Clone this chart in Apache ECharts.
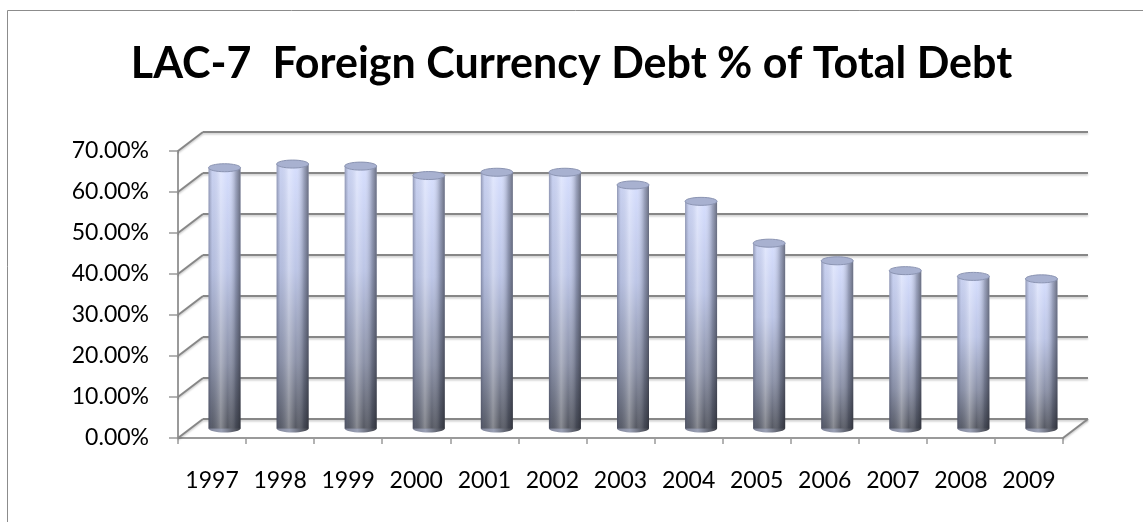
<!DOCTYPE html>
<html>
<head>
<meta charset="utf-8">
<script src="https://cdn.jsdelivr.net/npm/echarts@6/dist/echarts.min.js"></script>
<style>
  html, body { margin: 0; padding: 0; background: #ffffff; }
  #chart { width: 1143px; height: 522px; }
</style>
</head>
<body>
<div id="chart"></div>
<script>
// ---- data ----
const titleText = 'LAC-7  Foreign Currency Debt % of Total Debt';
const years = ['1997', '1998', '1999', '2000', '2001', '2002', '2003', '2004', '2005', '2006', '2007', '2008', '2009'];
const foreignDebtShare = [0.636, 0.645, 0.640, 0.617, 0.625, 0.625, 0.594, 0.554, 0.452, 0.409, 0.385, 0.371, 0.365];
const yTicks = [0, 0.1, 0.2, 0.3, 0.4, 0.5, 0.6, 0.7];

// ---- 3D look constants (style only) ----
const DEPTH_X = 25, DEPTH_Y = -19;   // back wall offset
const MID_X = 12.5, MID_Y = -9.5;    // cylinder plane offset
const BAR_W = 32, ELL_RY = 4;
const FONT = 'Lato, "Open Sans", sans-serif';

const chart = echarts.init(document.getElementById('chart'), null, { renderer: 'canvas' });

function wallItem(params, api) {
  const v = api.value(1);
  const band = api.size([1, 0])[0];
  const pL = api.coord([0, v]);
  const pR = api.coord([years.length - 1, v]);
  const xl = pL[0] - band / 2, xr = pR[0] + band / 2, y = pL[1];
  const st = { stroke: '#878787', lineWidth: 2, shadowColor: 'rgba(0,0,0,0.22)', shadowBlur: 2, shadowOffsetY: 1.5 };
  const children = [
    { type: 'line', shape: { x1: xl, y1: y, x2: xl + DEPTH_X, y2: y + DEPTH_Y }, style: st },
    { type: 'line', shape: { x1: xl + DEPTH_X, y1: y + DEPTH_Y, x2: xr + DEPTH_X, y2: y + DEPTH_Y }, style: st }
  ];
  if (v === 0) {
    children.push({ type: 'line', shape: { x1: xr, y1: y, x2: xr + DEPTH_X, y2: y + DEPTH_Y }, style: st });
  }
  return { type: 'group', children: children };
}

function cylinderItem(params, api) {
  const i = api.value(0), v = api.value(1);
  const pt = api.coord([i, v]);
  const p0 = api.coord([i, 0]);
  const cx = pt[0] + MID_X;
  const top = pt[1] + MID_Y;
  const bot = p0[1] + MID_Y;
  const rx = BAR_W / 2;
  return {
    type: 'group',
    children: [
      { type: 'ellipse', shape: { cx: cx, cy: bot, rx: rx, ry: ELL_RY },
        style: { fill: new echarts.graphic.LinearGradient(0, 0, 1, 0, [
          { offset: 0, color: '#80859a' }, { offset: 0.4, color: '#9aa0b4' }, { offset: 1, color: '#3e4047' }]) } },
      { type: 'rect', shape: { x: cx - rx, y: top, width: BAR_W, height: bot - top },
        style: { fill: new echarts.graphic.LinearGradient(0, 0, 0, 1, [
          { offset: 0, color: '#d6defd' },
          { offset: 0.4, color: '#bcc5e6' },
          { offset: 0.75, color: '#8a90a6' },
          { offset: 1, color: '#555862' }]) } },
      { type: 'rect', shape: { x: cx - rx, y: top, width: BAR_W, height: bot - top },
        style: { fill: new echarts.graphic.LinearGradient(0, 0, 1, 0, [
          { offset: 0, color: 'rgba(60,65,90,0.45)' },
          { offset: 0.12, color: 'rgba(110,120,150,0.12)' },
          { offset: 0.38, color: 'rgba(255,255,255,0.30)' },
          { offset: 0.6, color: 'rgba(255,255,255,0.0)' },
          { offset: 0.85, color: 'rgba(30,35,50,0.30)' },
          { offset: 1, color: 'rgba(20,22,30,0.55)' }]) } },
      { type: 'ellipse', shape: { cx: cx, cy: top, rx: rx, ry: ELL_RY },
        style: { fill: '#a8b1d0', stroke: '#8b94b2', lineWidth: 1 } }
    ]
  };
}

const option = {
  animation: false,
  backgroundColor: '#ffffff',
  title: {
    text: titleText,
    left: 'center',
    top: 38,
    textStyle: { fontFamily: FONT, fontWeight: 'bold', fontSize: 43, color: '#000000' }
  },
  graphic: [
    { type: 'rect', z: -10, shape: { x: 7.5, y: 10.5, width: 1300, height: 700 },
      style: { fill: 'none', stroke: '#8c8c8c', lineWidth: 1 } }
  ],
  grid: { left: 178, top: 151, width: 885, height: 287, containLabel: false },
  xAxis: {
    type: 'category',
    data: years,
    boundaryGap: true,
    axisLine: { show: true, lineStyle: { color: '#9a9a9a', width: 2 } },
    axisTick: { show: true, interval: 0, length: 6, lineStyle: { color: '#9a9a9a', width: 1.5 } },
    axisLabel: { interval: 0, hideOverlap: false, margin: 31, fontFamily: FONT, fontSize: 23, color: '#000000' },
    splitLine: { show: false }
  },
  yAxis: {
    type: 'value',
    min: 0,
    max: 0.7,
    interval: 0.1,
    axisLine: { show: true, lineStyle: { color: '#9a9a9a', width: 2 } },
    axisTick: { show: true, length: 9, lineStyle: { color: '#9a9a9a', width: 1.5 } },
    axisLabel: {
      margin: 29, fontFamily: FONT, fontSize: 23, color: '#000000',
      formatter: function (v) { return (v * 100).toFixed(2) + '%'; }
    },
    splitLine: { show: false }
  },
  series: [
    {
      type: 'custom',
      name: 'walls',
      z: 1,
      clip: false,
      silent: true,
      renderItem: wallItem,
      data: yTicks.map(function (t) { return [0, t]; })
    },
    {
      type: 'custom',
      name: 'Foreign currency debt share',
      z: 2,
      clip: false,
      renderItem: cylinderItem,
      encode: { x: 0, y: 1 },
      data: foreignDebtShare.map(function (v, i) { return [i, v]; })
    }
  ]
};

chart.setOption(option);
</script>
</body>
</html>
